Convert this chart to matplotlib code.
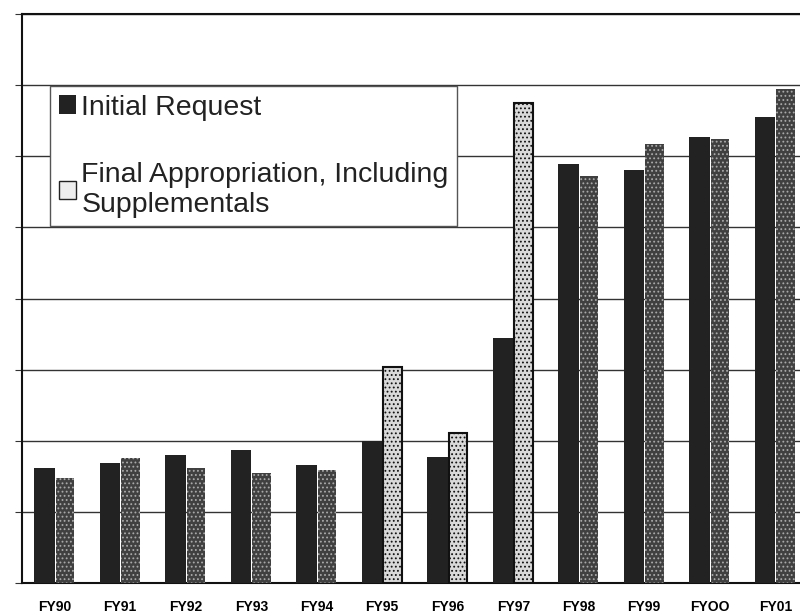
import matplotlib.patches as mpatches
import matplotlib.pyplot as plt
import numpy as np

plt.rcParams["font.family"] = ["Liberation Sans", "DejaVu Sans"]
plt.rcParams["hatch.linewidth"] = 0.8

years = ["FY90", "FY91", "FY92", "FY93", "FY94", "FY95",
         "FY96", "FY97", "FY98", "FY99", "FYOO", "FY01"]
initial_request = [1.61, 1.69, 1.80, 1.87, 1.66, 2.00,
                   1.77, 3.44, 5.89, 5.80, 6.27, 6.55]
final_approp = [1.48, 1.76, 1.61, 1.54, 1.59, 3.03,
                2.11, 6.75, 5.72, 6.17, 6.24, 6.94]
# FY95-FY97 finals are printed in a lighter shade
light_final = [False, False, False, False, False, True,
               True, True, False, False, False, False]

fig = plt.figure(figsize=(8.0, 6.13), dpi=100)
ax = fig.add_axes([22 / 800, 30 / 613, 786 / 800, 569 / 613])

x = np.arange(len(years))
w = 0.31

ax.bar(x - w / 2, initial_request, w, color="#222222", zorder=3)
for xi, val, light in zip(x, final_approp, light_final):
    if light:
        ax.bar(xi + w / 2, val, w * 0.92, facecolor="#d9d9d9",
               edgecolor="#111111", linewidth=1.5, hatch="....", zorder=3)
    else:
        ax.bar(xi + w / 2, val, w * 0.92, facecolor="#404040",
               edgecolor="#aaaaaa", linewidth=0, hatch="....", zorder=3)

ax.set_xlim(-0.5, len(years) - 0.5)
ax.set_ylim(0, 8)
ax.set_yticks(range(0, 9))
ax.set_yticklabels([])
ax.tick_params(axis="y", length=5, direction="out", color="#333333")
ax.yaxis.grid(True, color="#333333", linewidth=1.0, zorder=0)

ax.set_xticks(x)
ax.set_xticklabels(years, fontsize=10, fontweight="bold")
ax.tick_params(axis="x", length=0, pad=12)

for side in ["left", "top", "bottom"]:
    ax.spines[side].set_color("#111111")
    ax.spines[side].set_linewidth(1.5)
ax.spines["right"].set_visible(False)

h1 = mpatches.Patch(facecolor="#222222", label="Initial Request")
h2 = mpatches.Patch(facecolor="#eeeeee", edgecolor="#222222",
                    label="Final Appropriation, Including\nSupplementals")
leg = ax.legend(handles=[h1, h2], loc="upper left",
                bbox_to_anchor=(28 / 786, 497 / 569), fontsize=20.5,
                frameon=True, fancybox=False, edgecolor="#555555",
                framealpha=1.0, borderpad=0.3, labelspacing=1.45,
                handlelength=0.6, handleheight=0.6, handletextpad=0.2,
                borderaxespad=0)
leg.get_frame().set_linewidth(1.0)
leg.set_zorder(5)
for t in leg.get_texts():
    t.set_color("#222222")

fig.savefig("out.png", dpi=100, facecolor="white")
